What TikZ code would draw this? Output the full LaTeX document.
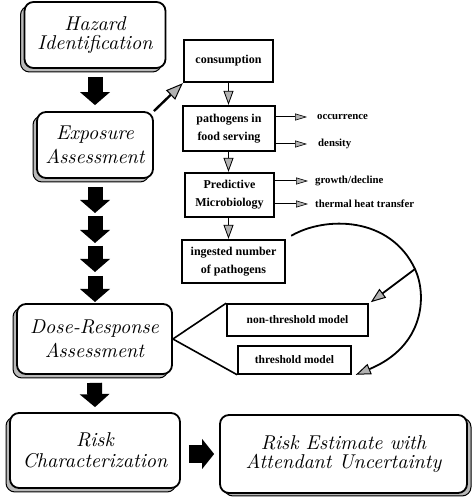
\documentclass[tikz,border=0pt]{standalone}
\usepackage{fontspec}
\newfontfamily\labfont{Liberation Serif}
\newfontfamily\callig{lmroman10-italic.otf}
\usetikzlibrary{arrows.meta,shadows,calc}
\tikzset{
  bigbox/.style={draw, line width=1.8pt, rounded corners=9pt, fill=white, align=center,
    font=\callig\fontsize{20}{23}\selectfont, inner sep=0pt},
  shadowL/.style={copy shadow={shadow xshift=-4pt, shadow yshift=-4pt, fill=gray!55, draw=black, line width=1pt}},
  shadowR/.style={copy shadow={shadow xshift=4pt, shadow yshift=-3pt, fill=gray!55, draw=black, line width=1pt}},
  smallbox/.style={draw, line width=2.4pt, fill=white, align=center,
    font=\labfont\bfseries\fontsize{12}{18}\selectfont, inner sep=0pt},
  modelbox/.style={draw, line width=1.6pt, fill=white, align=center,
    font=\labfont\bfseries\fontsize{11.5}{14}\selectfont, inner sep=0pt},
  lbl/.style={anchor=west, font=\labfont\bfseries\fontsize{10.8}{13}\selectfont, inner sep=2pt},
  blk/.style={line width=15pt, -{Triangle[length=13pt,width=30pt,line width=0pt]}},
  blkr/.style={line width=18pt, -{Triangle[length=12pt,width=30pt,line width=0pt]}},
  gar/.style={line width=1.2pt, -{Triangle[length=14pt,width=10pt,fill=gray!60,line width=0.8pt]}},
  bigar/.style={line width=2.4pt, -{Triangle[length=17pt,width=13pt,fill=gray!60,line width=1pt]}},
  sar/.style={line width=1pt, -{Triangle[length=12pt,width=7pt,fill=gray!60,line width=0.6pt]}},
  curv/.style={line width=1.8pt, -{Triangle[length=15pt,width=11pt,fill=gray!60,line width=1pt]}},
  fan/.style={line width=1.6pt},
}
\begin{document}
\begin{tikzpicture}[x=1pt,y=1pt]
\useasboundingbox (0,0) rectangle (474,501);

% main column
\node[bigbox, shadowL, minimum width=141pt, minimum height=66pt] (haz) at (95,466) {\shortstack{Hazard\\[2pt]Identification}};
\node[bigbox, shadowL, minimum width=116pt, minimum height=66pt] (expo) at (95,356) {\raisebox{-3pt}{\shortstack{Exposure\\[3pt]Assessment}}};
\node[bigbox, shadowL, minimum width=155pt, minimum height=70pt] (dose) at (94.5,162) {\raisebox{-4pt}{\shortstack{Dose-Response\\[3pt]Assessment}}};
\node[bigbox, shadowL, minimum width=170pt, minimum height=75pt] (riskc) at (95,50.5) {\raisebox{-5pt}{\shortstack{Risk\\[3pt]Characterization}}};
\node[bigbox, shadowR, minimum width=247pt, minimum height=78pt] (riske) at (343.5,47) {\raisebox{-3pt}{\shortstack{Risk Estimate with\\[1pt]Attendant Uncertainty}}};

% exposure chain
\node[smallbox, minimum width=89pt, minimum height=42pt] (cons) at (228.5,440) {consumption};
\node[smallbox, minimum width=92pt, minimum height=45pt] (path) at (229,372.5) {pathogens in\\food serving};
\node[smallbox, minimum width=89pt, minimum height=44pt] (pred) at (229.5,306) {Predictive\\Microbiology};
\node[smallbox, minimum width=103pt, minimum height=43pt] (ing) at (233.5,239.5) {ingested number\\of pathogens};

% models
\node[modelbox, minimum width=141pt, minimum height=32pt] (nonth) at (297.5,181) {\raisebox{-3pt}{non-threshold model}};
\node[modelbox, minimum width=113pt, minimum height=28pt] (thr) at (294.5,141) {\raisebox{-5pt}{threshold model}};

% side labels
\node[lbl] (occ) at (315,384) {occurrence};
\node[lbl] (dens) at (316,357) {density};
\node[lbl] (grow) at (313,320) {growth/decline};
\node[lbl] (therm) at (313,297) {thermal heat transfer};

% block arrows
\draw[blk] ([yshift=-8pt]haz.south) -- ([yshift=6pt]expo.north);
\coordinate (b1s) at (95,314); \coordinate (b1e) at (95,288);
\coordinate (b2s) at (95,285); \coordinate (b2e) at (95,258);
\coordinate (b3s) at (95,255); \coordinate (b3e) at (95,229);
\coordinate (b4s) at (95,225); \coordinate (b4e) at (95,199);
\draw[blk] (b1s) -- (b1e);
\draw[blk] (b2s) -- (b2e);
\draw[blk] (b3s) -- (b3e);
\draw[blk] (b4s) -- (b4e);
\draw[blk] ([yshift=-8pt]dose.south) -- ([yshift=5pt]riskc.north);
\draw[blkr] ([xshift=8pt]riskc.east |- riske.west) -- ([xshift=-5pt]riske.west);

% gray arrows
\draw[bigar] (expo.north east) -- (cons.south west);
\draw[gar] (cons.south) -- (cons.south |- path.north);
\draw[gar] (cons.south |- path.south) -- (cons.south |- pred.north);
\draw[gar] (cons.south |- pred.south) -- (cons.south |- ing.north);

\draw[sar] (path.east |- occ.west) -- ([xshift=-8pt]occ.west);
\draw[sar] (path.east |- dens.west) -- ([xshift=-9pt]dens.west);
\draw[sar] (pred.east |- grow.west) -- ([xshift=-5pt]grow.west);
\draw[sar] (pred.east |- therm.west) -- ([xshift=-5pt]therm.west);

% curve to models
\coordinate (br) at (415,232);
\draw[curv] ([xshift=5pt,yshift=3pt]ing.north east) .. controls (325,285) and (390,285) .. (br)
  .. controls (427,206) and (425,155) .. ([xshift=4pt]thr.south east);
\draw[curv] (br) -- ([xshift=2pt,yshift=1pt]nonth.north east);

% fan lines
\draw[fan] (nonth.north west) -- (dose.east) -- (thr.south west);
\end{tikzpicture}
\end{document}
